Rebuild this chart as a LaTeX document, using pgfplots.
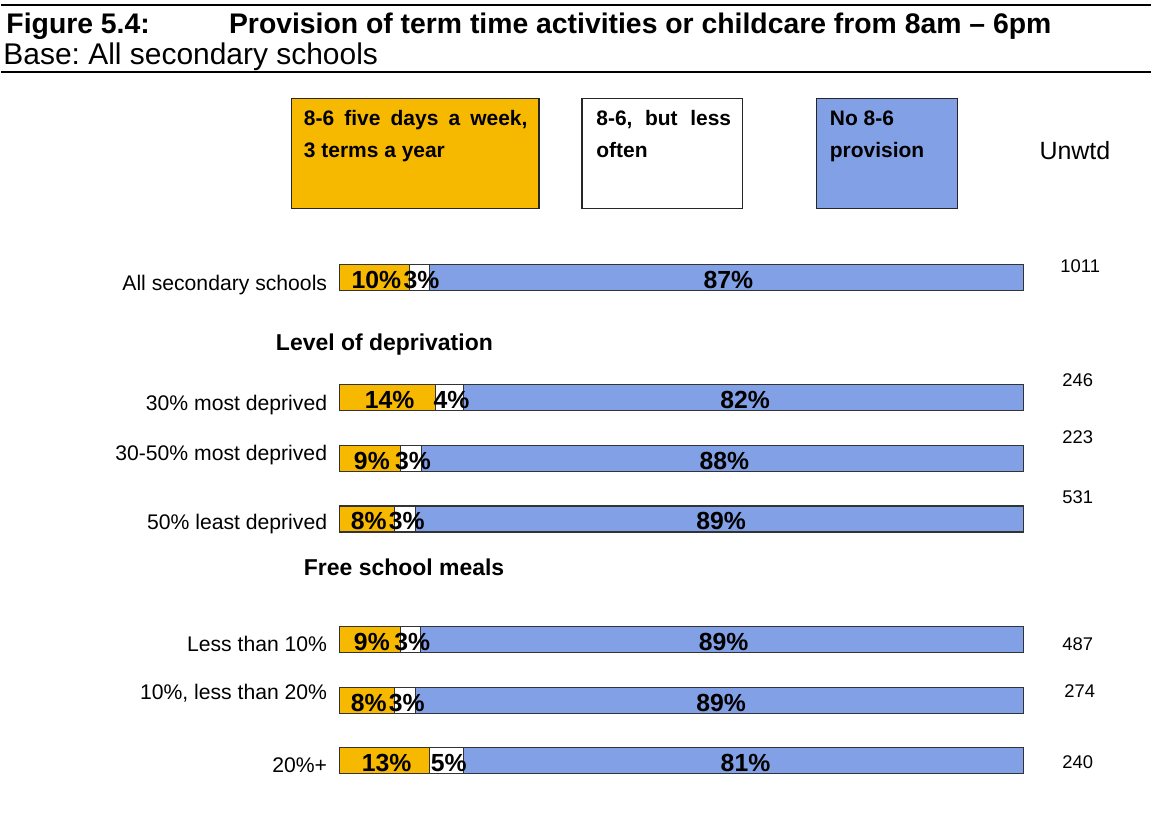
\documentclass[border=0pt]{standalone}
\usepackage{fontspec}
\setmainfont{Liberation Sans}
\usepackage{pgfplots}
\usepackage{pgfplotstable}
\pgfplotsset{compat=1.18}
\frenchspacing

\definecolor{fiveday}{RGB}{247,185,0}
\definecolor{noprov}{RGB}{130,160,230}

% bar lengths (a,b,c) as drawn, printed labels (la,lb,lc); y = -pixel row
\pgfplotstableread{
y      a     b    c     la lb lc
-278   10.2  3.0  86.8  10 3  87
-398.3 14.1  4.0  81.9  14 4  82
-459.5 8.9   3.1  88.0  9  3  88
-520   8.0   3.1  88.9  8  3  89
-641   8.9   2.9  88.2  9  3  89
-701.7 8.0   3.1  88.9  8  3  89
-762   13.2  5.0  81.8  13 5  81
}\provdata

\pgfplotsset{
  pagebox/.style={
    hide axis, scale only axis, clip=false,
    width=576pt, height=417pt,
    xmin=-49.49, xmax=118.69, ymin=-834, ymax=0,
  }
}

\begin{document}
\begin{tikzpicture}
\begin{axis}[pagebox, xbar stacked, bar width=26]
\addplot[fill=fiveday, draw=black!80, line width=0.6pt] table[x=a, y=y] {\provdata};
\addplot[fill=white, draw=black!80, line width=0.6pt] table[x=b, y=y] {\provdata};
\addplot[fill=noprov, draw=black!80, line width=0.6pt] table[x=c, y=y] {\provdata};
\end{axis}

\begin{axis}[pagebox,
  nodes near coords={\pgfplotspointmeta\%},
  point meta=explicit symbolic,
  every node near coord/.style={anchor=center, font=\fontsize{12.4}{14}\selectfont\bfseries, inner sep=0pt, yshift=-1.2pt, xshift=1pt},
]
\addplot[draw=none, mark=none] table[x expr=\thisrow{a}/2, y=y, meta=la] {\provdata};
\addplot[draw=none, mark=none] table[x expr=\thisrow{a}+\thisrow{b}/2, y=y, meta=lb] {\provdata};
\addplot[draw=none, mark=none] table[x expr=\thisrow{a}+\thisrow{b}+\thisrow{c}/2, y=y, meta=lc] {\provdata};
\end{axis}

\begin{scope}[x=0.5pt, y=-0.5pt, shift={(0,417pt)}]
  \path (0,0) rectangle (1152,834);
  % heading rules and titles
  \draw[line width=1pt] (0,5) -- (1152,5);
  \draw[line width=1.1pt] (0,72) -- (1152,72);
  \node[anchor=base west, inner sep=0pt, font=\fontsize{14.2}{16}\selectfont\bfseries] at (5,34) {Figure 5.4:};
  \node[anchor=base west, inner sep=0pt, font=\fontsize{14.2}{16}\selectfont\bfseries] at (228,34) {Provision of term time activities or childcare from 8am – 6pm};
  \node[anchor=base west, inner sep=0pt, font=\fontsize{15}{17}\selectfont] at (2,65) {Base: All secondary schools};

  % legend boxes
  \draw[fill=fiveday, draw=black!85, line width=0.7pt] (291,99) rectangle (539,209);
  \draw[fill=white, draw=black!85, line width=0.7pt] (582,99) rectangle (743,209);
  \draw[fill=noprov, draw=black!85, line width=0.7pt] (817,99) rectangle (958,209);
  \begin{scope}[every node/.style={anchor=base west, inner sep=0pt, font=\fontsize{10.5}{12}\selectfont\bfseries}]
    \node at (303,126) {\makebox[112pt][s]{8-6 five days a week,}};
    \node at (303,158) {3 terms a year};
    \node at (596,126) {\makebox[67.5pt][s]{8-6, but less}};
    \node at (596,158) {often};
    \node at (830,126) {No 8-6};
    \node at (830,158) {provision};
  \end{scope}
  \node[anchor=base west, inner sep=0pt, font=\fontsize{12.5}{14}\selectfont] at (1040,160) {Unwtd};

  % category labels
  \begin{scope}[every node/.style={anchor=base east, inner sep=0pt, font=\fontsize{10.6}{12}\selectfont}]
    \node at (327,291) {All secondary schools};
    \node at (327,411) {30\% most deprived};
    \node at (327,461) {30-50\% most deprived};
    \node at (327,531) {50\% least deprived};
    \node at (327,653) {Less than 10\%};
    \node at (327,701) {10\%, less than 20\%};
    \node at (327,774) {20\%+};
  \end{scope}
  \begin{scope}[every node/.style={anchor=base west, inner sep=0pt, font=\fontsize{11.5}{13}\selectfont\bfseries}]
    \node at (275,351) {Level of deprivation};
    \node at (303,577) {Free school meals};
  \end{scope}

  % unweighted bases
  \begin{scope}[every node/.style={anchor=base west, inner sep=0pt, font=\fontsize{9.2}{11}\selectfont}]
    \node at (1061,273) {1011};
    \node at (1063,387) {246};
    \node at (1063,444) {223};
    \node at (1063,504) {531};
    \node at (1063,652) {487};
    \node at (1065,699) {274};
    \node at (1063,770) {240};
  \end{scope}
\end{scope}
\end{tikzpicture}
\end{document}
